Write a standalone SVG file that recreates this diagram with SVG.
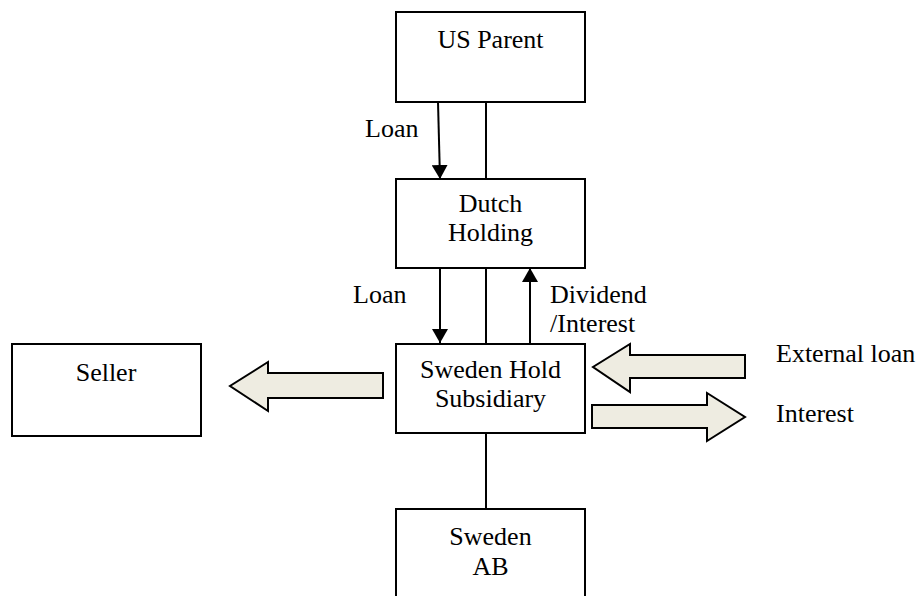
<svg xmlns="http://www.w3.org/2000/svg" width="920" height="596" viewBox="0 0 920 596">
<style>
.box{fill:#fff;stroke:#000;stroke-width:2}
.ln{fill:none;stroke:#000;stroke-width:2}
.blk{fill:#EEECE1;stroke:#000;stroke-width:2;stroke-linejoin:miter}
text{font-family:'Liberation Serif','Times New Roman','DejaVu Serif',serif;font-size:26px;fill:#000}
.c{text-anchor:middle}
</style>
<defs>
<marker id="ah" markerWidth="14" markerHeight="16" refX="14" refY="8" orient="auto" markerUnits="userSpaceOnUse" viewBox="0 0 14 16">
<path d="M0,0 L14,8 L0,16 Z" fill="#000"/>
</marker>
</defs>
<g id="connectors" font-family="Liberation Serif, serif">
<path class="ln" d="M438,102 L440,179" marker-end="url(#ah)"/>
<path class="ln" d="M486,102 L486,179"/>
<path class="ln" d="M440,268 L440,343" marker-end="url(#ah)"/>
<path class="ln" d="M486,268 L486,344"/>
<path class="ln" d="M530,344 L530,268" marker-end="url(#ah)"/>
<path class="ln" d="M486,433 L486,509"/>
<polygon class="blk" points="383,373 268,373 268,362 230,386 268,411 268,398 383,398"/>
<polygon class="blk" points="745,355 630,355 630,344 593,367 630,392 630,378 745,378"/>
<polygon class="blk" points="592,405 707,405 707,393 745,417 707,441 707,428 592,428"/>
<text x="365" y="137">Loan</text>
<text x="353" y="303">Loan</text>
<text x="550" y="303">Dividend</text>
<text x="550" y="332">/Interest</text>
<text x="776" y="362">External loan</text>
<text x="776" y="422">Interest</text>
</g>
<g id="us-parent" font-family="Liberation Serif, serif">
<rect class="box" x="396" y="12" width="189" height="90"/>
<text class="c" x="490.5" y="48">US Parent</text>
</g>
<g id="dutch-holding" font-family="Liberation Serif, serif">
<rect class="box" x="396" y="179" width="189" height="89"/>
<text class="c" x="490.5" y="212">Dutch</text>
<text class="c" x="490.5" y="241">Holding</text>
</g>
<g id="sweden-hold" font-family="Liberation Serif, serif">
<rect class="box" x="396" y="344" width="189" height="89"/>
<text class="c" x="490.5" y="378">Sweden Hold</text>
<text class="c" x="490.5" y="407">Subsidiary</text>
</g>
<g id="seller" font-family="Liberation Serif, serif">
<rect class="box" x="12" y="344" width="189" height="92"/>
<text class="c" x="106" y="381">Seller</text>
</g>
<g id="sweden-ab" font-family="Liberation Serif, serif">
<rect class="box" x="396" y="509" width="189" height="110"/>
<text class="c" x="490.5" y="545">Sweden</text>
<text class="c" x="490.5" y="575">AB</text>
</g>
</svg>
